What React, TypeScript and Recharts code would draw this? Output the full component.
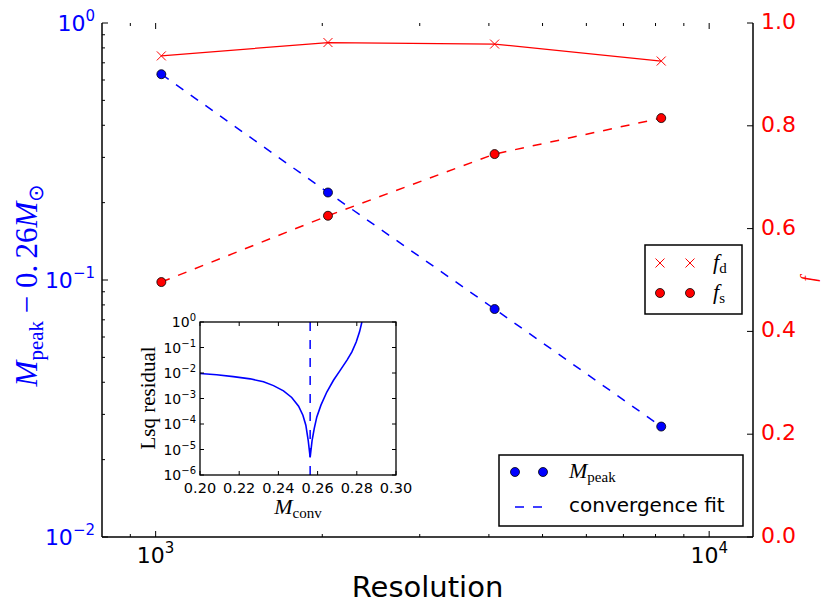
import React from "react";
import { ComposedChart, LineChart, Line, XAxis, YAxis, ReferenceLine, CartesianGrid } from "recharts";

/* ── main panel data ── */
const resolutions = [1024, 2048, 4096, 8192];
const peakMass = [0.632, 0.219, 0.0771, 0.0269];
const fitMass = [0.632, 0.219, 0.0771, 0.0269];
const fracDisk = [0.936, 0.962, 0.959, 0.926];
const fracStar = [0.496, 0.625, 0.745, 0.815];

const resTicks = [900, 1000, 2000, 3000, 4000, 5000, 6000, 7000, 8000, 9000, 10000];
const resMajor: Record<number, string> = { 1000: "3", 10000: "4" };
const massTicks = [
  0.01, 0.02, 0.03, 0.04, 0.05, 0.06, 0.07, 0.08, 0.09,
  0.1, 0.2, 0.3, 0.4, 0.5, 0.6, 0.7, 0.8, 0.9, 1,
];
const massMajor: Record<number, string> = { 0.01: "−2", 0.1: "−1", 1: "0" };
const fracTicks = [0, 0.2, 0.4, 0.6, 0.8, 1.0];

/* ── inset data ── */
const mconv = [
  0.2, 0.2085, 0.217, 0.2256, 0.2324, 0.2375, 0.2426, 0.2468, 0.2503, 0.2525, 0.254, 0.2552,
  0.2562, 0.2572, 0.2583, 0.2596, 0.2617, 0.2647, 0.2681, 0.2716, 0.275, 0.2775, 0.2797,
  0.2814, 0.2826,
];
const residual = [
  9.5e-3, 8.5e-3, 7.2e-3, 5.9e-3, 4.5e-3, 3.2e-3, 2.0e-3, 1.1e-3, 5.0e-4, 2.2e-4, 9.0e-5, 2.3e-5,
  4.9e-6, 2.3e-5, 6.7e-5, 1.9e-4, 5.5e-4, 1.8e-3, 5.2e-3, 1.3e-2, 3.2e-2, 6.7e-2, 0.165,
  0.41, 1.0,
];
const bestFit = 0.2562;
const mconvTicks = [0.2, 0.22, 0.24, 0.26, 0.28, 0.3];
const residTicks = [1e-6, 1e-5, 1e-4, 1e-3, 1e-2, 1e-1, 1];
const residExp = ["−6", "−5", "−4", "−3", "−2", "−1", "0"];

const mainData = resolutions.map((r, i) => ({
  res: r,
  mpeak: peakMass[i],
  fit: fitMass[i],
  fd: fracDisk[i],
  fs: fracStar[i],
}));
const insetData = mconv.map((m, i) => ({ m, r: residual[i] }));

const W = 831;
const H = 614;
const L = 102;
const R = 753;
const T = 23;
const B = 537;

const BLUE = "#0000ff";
const RED = "#ff0000";
const SANS = "DejaVu Sans";
const SERIF = "Liberation Serif";

/* ── tick renderers (matplotlib style, inward) ── */

function ResTick(props: any) {
  const { x, payload } = props;
  const exp = resMajor[payload.value];
  const len = exp ? 6 : 3;
  return (
    <g>
      <line x1={x} x2={x} y1={B} y2={B - len} stroke="#000" />
      <line x1={x} x2={x} y1={T} y2={T + len} stroke="#000" />
      {exp && (
        <text x={x} y={B + 26} textAnchor="middle" fontFamily={SANS} fontSize={22} fill="#000">
          10<tspan fontSize={15} dy={-10}>{exp}</tspan>
        </text>
      )}
    </g>
  );
}

function MassTick(props: any) {
  const { y, payload } = props;
  const exp = massMajor[payload.value];
  const len = exp ? 6 : 3;
  return (
    <g>
      <line x1={L} x2={L + len} y1={y} y2={y} stroke="#000" />
      {exp && (
        <text x={95} y={y + 8} textAnchor="end" fontFamily={SANS} fontSize={22} fill={BLUE}>
          10<tspan fontSize={15} dy={-10}>{exp}</tspan>
        </text>
      )}
    </g>
  );
}

function FracTick(props: any) {
  const { y, payload } = props;
  return (
    <g>
      <line x1={R} x2={R - 6} y1={y} y2={y} stroke="#000" />
      <text x={761} y={y + 6} textAnchor="start" fontFamily={SANS} fontSize={22} fill={RED}>
        {payload.value.toFixed(1)}
      </text>
    </g>
  );
}

/* inset plot box in its own svg coords */
const IL = 70;
const IR = 266;
const IT = 22;
const IB = 175;
const INSET_X = 130;
const INSET_Y = 300;

function MconvTick(props: any) {
  const { x, payload } = props;
  return (
    <g>
      <line x1={x} x2={x} y1={IB} y2={IB - 4} stroke="#000" />
      <line x1={x} x2={x} y1={IT} y2={IT + 4} stroke="#000" />
      <text x={x} y={IB + 18} textAnchor="middle" fontFamily={SANS} fontSize={14.5} fill="#000">
        {payload.value.toFixed(2)}
      </text>
    </g>
  );
}

function ResidTick(props: any) {
  const { y, payload, index } = props;
  const exp = residExp[index] ?? residExp[residTicks.indexOf(payload.value)];
  return (
    <g>
      <line x1={IL} x2={IL + 4} y1={y} y2={y} stroke="#000" />
      <line x1={IR} x2={IR - 4} y1={y} y2={y} stroke="#000" />
      <text x={IL - 4} y={y + 5} textAnchor="end" fontFamily={SANS} fontSize={14} fill="#000">
        10<tspan fontSize={10} dy={-6}>{exp}</tspan>
      </text>
    </g>
  );
}

function CrossDot(props: any) {
  const { cx, cy } = props;
  if (cx == null || cy == null) return <g />;
  const s = 4.5;
  return (
    <g>
      <line x1={cx - s} y1={cy - s} x2={cx + s} y2={cy + s} stroke={RED} strokeWidth={1} />
      <line x1={cx - s} y1={cy + s} x2={cx + s} y2={cy - s} stroke={RED} strokeWidth={1} />
    </g>
  );
}

/* ── legends + axis titles ── */

function Overlay() {
  return (
    <svg width={W} height={H} style={{ position: "absolute", left: 0, top: 0, pointerEvents: "none" }}>
      {/* inset frame */}
      <rect
        x={INSET_X + IL}
        y={INSET_Y + IT}
        width={IR - IL}
        height={IB - IT}
        fill="none"
        stroke="#000"
        strokeWidth={1.3}
      />
      {/* left title */}
      <text
        transform="translate(37,285) rotate(-90)"
        textAnchor="middle"
        fill={BLUE}
        fontFamily={SERIF}
        fontSize={31}
      >
        <tspan fontStyle="italic">M</tspan>
        <tspan fontSize={21} dy={6}>peak</tspan>
        <tspan dy={-6}>{" − 0.\u200926"}</tspan>
        <tspan fontStyle="italic">M</tspan>
        <tspan fontSize={21} dy={6}>⊙</tspan>
      </text>
      {/* right title */}
      <text transform="translate(815,279) rotate(-90)" textAnchor="middle" fill={RED} fontFamily={SERIF} fontSize={20} fontStyle="italic">
        f
      </text>
      {/* bottom title */}
      <text x={427.5} y={597} textAnchor="middle" fontFamily={SANS} fontSize={29} fill="#000">
        Resolution
      </text>

      {/* inset titles */}
      <text transform="translate(155,398) rotate(-90)" textAnchor="middle" fontFamily={SERIF} fontSize={21} fill="#000">
        Lsq residual
      </text>
      <text x={298} y={514} textAnchor="middle" fontFamily={SERIF} fontSize={22} fill="#000">
        <tspan fontStyle="italic">M</tspan>
        <tspan fontSize={15} dy={4}>conv</tspan>
      </text>

      {/* legend: f_d, f_s */}
      <rect x={645} y={245} width={97} height={69} fill="#fff" stroke="#000" strokeWidth={1.5} />
      <CrossDot cx={660} cy={263} />
      <CrossDot cx={690} cy={263} />
      <text x={713} y={269} fontFamily={SERIF} fontSize={22} fill="#000">
        <tspan fontStyle="italic">f</tspan>
        <tspan fontSize={15} dy={4}>d</tspan>
      </text>
      <circle cx={660} cy={293} r={4.5} fill={RED} stroke="#000" strokeWidth={0.8} />
      <circle cx={690} cy={293} r={4.5} fill={RED} stroke="#000" strokeWidth={0.8} />
      <text x={713} y={299} fontFamily={SERIF} fontSize={22} fill="#000">
        <tspan fontStyle="italic">f</tspan>
        <tspan fontSize={15} dy={4}>s</tspan>
      </text>

      {/* legend: M_peak, convergence fit */}
      <rect x={499} y={455} width={244} height={71} fill="#fff" stroke="#000" strokeWidth={1.5} />
      <circle cx={515} cy={472} r={4.5} fill={BLUE} stroke="#000" strokeWidth={0.8} />
      <circle cx={543} cy={472} r={4.5} fill={BLUE} stroke="#000" strokeWidth={0.8} />
      <text x={569} y={478} fontFamily={SERIF} fontSize={22} fill="#000">
        <tspan fontStyle="italic">M</tspan>
        <tspan fontSize={15} dy={4}>peak</tspan>
      </text>
      <line x1={515} x2={543} y1={507} y2={507} stroke={BLUE} strokeWidth={1.5} strokeDasharray="9 9" />
      <text x={569} y={512} fontFamily={SANS} fontSize={20} fill="#000">
        convergence fit
      </text>
    </svg>
  );
}

function Inset() {
  return (
    <div style={{ position: "absolute", left: INSET_X, top: INSET_Y }}>
      <LineChart width={290} height={215} data={insetData} margin={{ top: IT, right: 24, bottom: 0, left: 0 }}>
        <CartesianGrid fill="#fff" stroke="none" horizontal={false} vertical={false} />
        <XAxis
          dataKey="m"
          type="number"
          domain={[0.2, 0.3]}
          ticks={mconvTicks}
          interval={0}
          height={40}
          tickSize={0}
          tickMargin={0}
          tick={<MconvTick />}
          axisLine={false}
          tickLine={false}
          allowDataOverflow
        />
        <YAxis
          type="number"
          scale="log"
          domain={[1e-6, 1]}
          ticks={residTicks}
          interval={0}
          width={70}
          tickSize={0}
          tickMargin={0}
          tick={<ResidTick />}
          axisLine={false}
          tickLine={false}
          allowDataOverflow
        />
        <ReferenceLine x={bestFit} stroke={BLUE} strokeWidth={1.5} strokeDasharray="9 9" />
        <Line dataKey="r" stroke={BLUE} strokeWidth={1.6} dot={false} isAnimationActive={false} type="linear" />
      </LineChart>
    </div>
  );
}

export default function App() {
  return (
    <div style={{ position: "absolute", left: 0, top: 0, width: W, height: H, background: "#fff" }}>
      <div style={{ position: "absolute", left: 0, top: 0 }}>
        <ComposedChart width={W} height={H} data={mainData} margin={{ top: T, right: 0, bottom: 0, left: 0 }}>
          <XAxis
            xAxisId="b"
            dataKey="res"
            type="number"
            scale="log"
            domain={[800, 12000]}
            ticks={resTicks}
            interval={0}
            height={H - B}
            tickSize={0}
            tickMargin={0}
            tick={<ResTick />}
            tickLine={false}
            axisLine={{ stroke: "#000", strokeWidth: 1.5 }}
            allowDataOverflow
          />
          <XAxis
            xAxisId="t"
            orientation="top"
            dataKey="res"
            type="number"
            scale="log"
            domain={[800, 12000]}
            height={0}
            tick={false}
            tickLine={false}
            axisLine={{ stroke: "#000", strokeWidth: 1.5 }}
            allowDataOverflow
          />
          <YAxis
            yAxisId="m"
            type="number"
            scale="log"
            domain={[0.01, 1]}
            ticks={massTicks}
            interval={0}
            width={L}
            tickSize={0}
            tickMargin={0}
            tick={<MassTick />}
            tickLine={false}
            axisLine={{ stroke: "#000", strokeWidth: 1.5 }}
            allowDataOverflow
          />
          <YAxis
            yAxisId="f"
            orientation="right"
            type="number"
            domain={[0, 1]}
            ticks={fracTicks}
            interval={0}
            width={W - R}
            tickSize={0}
            tickMargin={0}
            tick={<FracTick />}
            tickLine={false}
            axisLine={{ stroke: "#000", strokeWidth: 1.5 }}
            allowDataOverflow
          />
          <Line xAxisId="b" yAxisId="m" dataKey="fit" stroke={BLUE} strokeWidth={1.5} strokeDasharray="9 9" dot={false} isAnimationActive={false} type="linear" />
          <Line
            xAxisId="b"
            yAxisId="m"
            dataKey="mpeak"
            stroke="none"
            dot={{ r: 4.5, fill: BLUE, stroke: "#000", strokeWidth: 0.8 }}
            isAnimationActive={false}
          />
          <Line
            xAxisId="b"
            yAxisId="f"
            dataKey="fd"
            stroke={RED}
            strokeWidth={1.3}
            dot={(p: any) => <CrossDot key={`fd-${p.index}`} cx={p.cx} cy={p.cy} />}
            isAnimationActive={false}
            type="linear"
          />
          <Line
            xAxisId="b"
            yAxisId="f"
            dataKey="fs"
            stroke={RED}
            strokeWidth={1.5}
            strokeDasharray="9 9"
            dot={{ r: 4.5, fill: RED, stroke: "#000", strokeWidth: 0.8, strokeDasharray: "0" }}
            isAnimationActive={false}
            type="linear"
          />
        </ComposedChart>
      </div>
      <Inset />
      <Overlay />
    </div>
  );
}
